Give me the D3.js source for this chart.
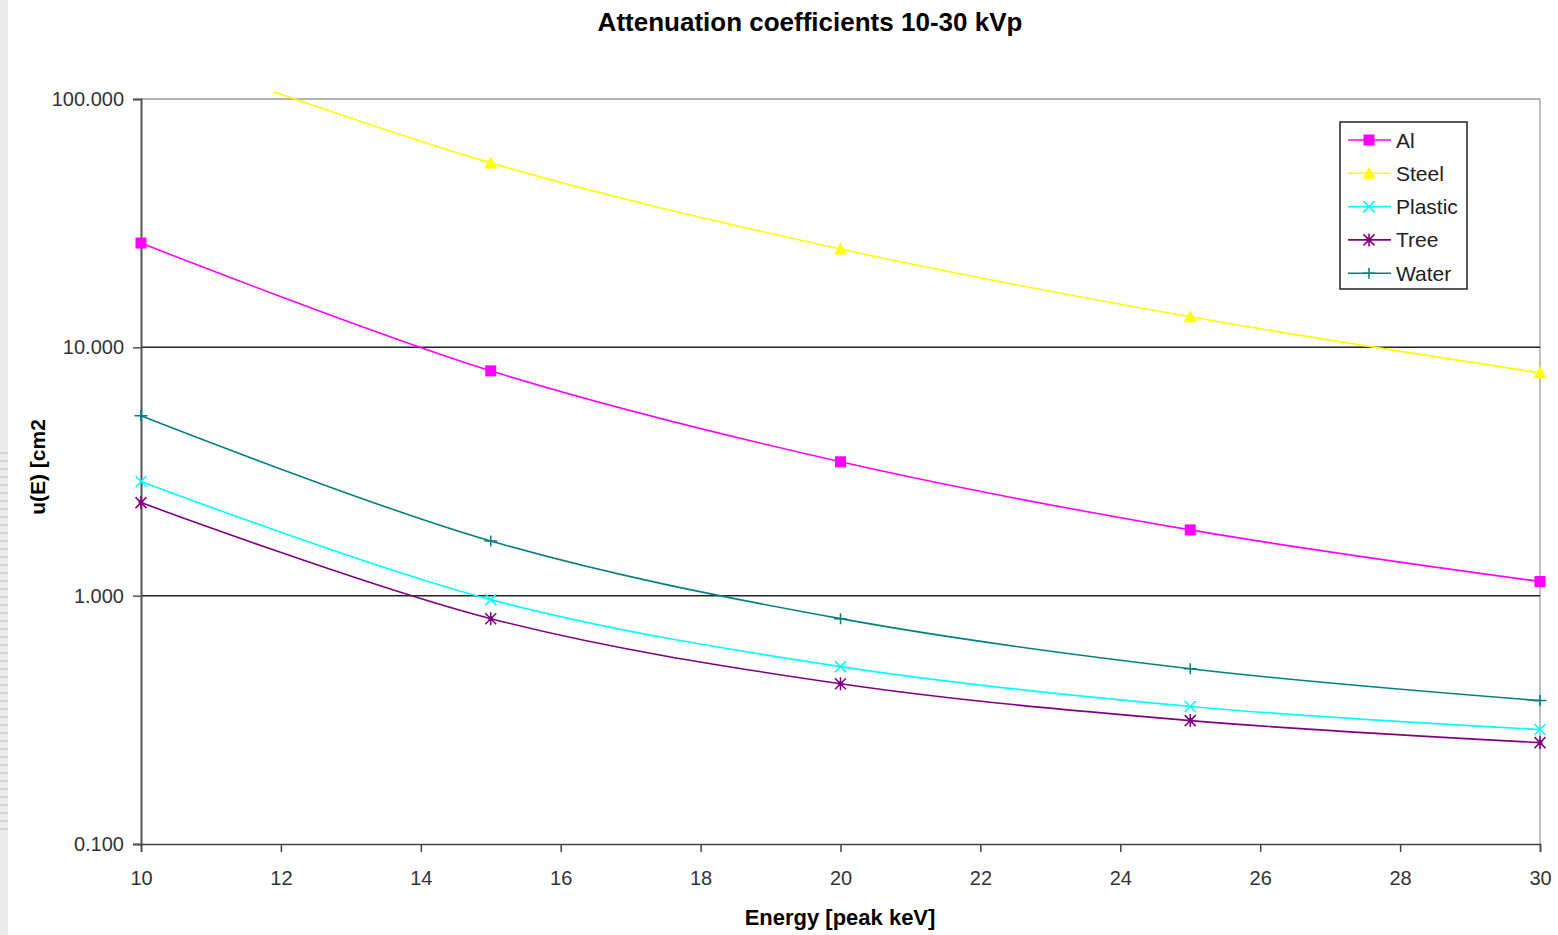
<!DOCTYPE html>
<html><head><meta charset="utf-8">
<script src="https://cdn.jsdelivr.net/npm/d3@7"></script>
<style>body{margin:0;background:#fff;}svg{display:block;font-family:"Liberation Sans",Arial,sans-serif;}</style>
</head><body>
<svg id="c" width="1558" height="935"></svg>
<script>
const energies = [10, 15, 20, 25, 30];
const alValues = [26.3, 8.04, 3.46, 1.84, 1.14];
const steelValues = [165, 55.3, 24.9, 13.27, 7.9];
const plasticValues = [2.88, 0.964, 0.518, 0.358, 0.289];
const treeValues = [2.37, 0.808, 0.442, 0.314, 0.256];
const waterValues = [5.30, 1.66, 0.808, 0.508, 0.378];
const seriesNames = ["Al", "Steel", "Plastic", "Tree", "Water"];
const seriesColors = ["#ff00ff", "#ffff00", "#00ffff", "#800080", "#008080"];
const seriesMarkers = ["square", "triangle", "x", "star", "plus"];
const xTicks = [10, 12, 14, 16, 18, 20, 22, 24, 26, 28, 30];
const yTicks = [0.1, 1, 10, 100];
const yTickLabels = ["0.100", "1.000", "10.000", "100.000"];

const seriesValues = [alValues, steelValues, plasticValues, treeValues, waterValues];
const svg = d3.select("#c");
const L = 141, R = 1540, T = 99, B = 844;
const x = d3.scaleLinear().domain([10, 30]).range([L, R]);
const y = d3.scaleLog().domain([0.1, 100]).range([B, T]);

// left gray strip
svg.append("rect").attr("x", 0).attr("y", 0).attr("width", 8).attr("height", 935).attr("fill", "#ececec");
for (let yy = 452; yy < 832; yy += 8) {
  svg.append("rect").attr("x", 0).attr("y", yy).attr("width", 8).attr("height", 2).attr("fill", "#d4d4d4");
}

// title
svg.append("text").attr("x", 810).attr("y", 31).attr("text-anchor", "middle")
  .attr("font-size", 26).attr("font-weight", "bold").attr("fill", "#000")
  .text("Attenuation coefficients 10-30 kVp");

// plot border top and right
svg.append("line").attr("x1", L).attr("x2", R).attr("y1", T).attr("y2", T).attr("stroke", "#999").attr("stroke-width", 1.5);
svg.append("line").attr("x1", R).attr("x2", R).attr("y1", T).attr("y2", B).attr("stroke", "#aaa").attr("stroke-width", 1.5);

// gridlines
svg.append("g").selectAll("line").data([1, 10]).join("line")
  .attr("x1", L).attr("x2", R).attr("y1", d => y(d)).attr("y2", d => y(d))
  .attr("stroke", "#222").attr("stroke-width", 1.5);

// axes
const yAxis = d3.axisLeft(y).tickValues(yTicks).tickFormat((d, i) => yTickLabels[i]).tickSize(8).tickPadding(9);
const gy = svg.append("g").attr("transform", `translate(${L},0)`).call(yAxis);
gy.select(".domain").attr("stroke", "#555").attr("stroke-width", 2);
gy.selectAll(".tick line").attr("stroke", "#555").attr("stroke-width", 1.5);
gy.selectAll(".tick text").attr("font-size", 20).attr("fill", "#333").attr("font-family", "Liberation Sans, Arial, sans-serif");

const xAxis = d3.axisBottom(x).tickValues(xTicks).tickFormat(d3.format("d")).tickSize(8).tickPadding(19);
const gx = svg.append("g").attr("transform", `translate(0,${B})`).call(xAxis);
gx.select(".domain").attr("stroke", "#444").attr("stroke-width", 1.5);
gx.selectAll(".tick line").attr("stroke", "#444").attr("stroke-width", 1.5);
gx.selectAll(".tick text").attr("font-size", 20).attr("fill", "#333").attr("font-family", "Liberation Sans, Arial, sans-serif");

// axis titles
svg.append("text").attr("x", 840).attr("y", 925).attr("text-anchor", "middle")
  .attr("font-size", 22).attr("font-weight", "bold").text("Energy [peak keV]");
svg.append("text").attr("transform", "translate(45,467) rotate(-90)").attr("text-anchor", "middle")
  .attr("font-size", 21).attr("font-weight", "bold").text("u(E) [cm2");

// clip
svg.append("clipPath").attr("id", "clip").append("rect")
  .attr("x", L - 6).attr("y", T - 7).attr("width", R - L + 12).attr("height", B - T + 7);

const line = d3.line().x(d => x(d[0])).y(d => y(d[1])).curve(d3.curveCatmullRom.alpha(0.5));

function drawMarker(g, type, color, cx, cy, s) {
  if (type === "square") {
    g.append("rect").attr("x", cx - s).attr("y", cy - s).attr("width", 2 * s).attr("height", 2 * s).attr("fill", color);
  } else if (type === "triangle") {
    g.append("path").attr("d", `M${cx},${cy - s - 1}L${cx + s + 1},${cy + s}L${cx - s - 1},${cy + s}Z`).attr("fill", color);
  } else if (type === "x") {
    g.append("path").attr("d", `M${cx - s},${cy - s}L${cx + s},${cy + s}M${cx - s},${cy + s}L${cx + s},${cy - s}`).attr("stroke", color).attr("stroke-width", 1.5);
  } else if (type === "star") {
    g.append("path").attr("d", `M${cx - s},${cy - s}L${cx + s},${cy + s}M${cx - s},${cy + s}L${cx + s},${cy - s}M${cx},${cy - s - 1}L${cx},${cy + s + 1}`).attr("stroke", color).attr("stroke-width", 1.5);
    g.append("circle").attr("cx", cx).attr("cy", cy).attr("r", 2.5).attr("fill", color);
  } else if (type === "plus") {
    g.append("path").attr("d", `M${cx - s - 1},${cy}L${cx + s + 1},${cy}M${cx},${cy - s}L${cx},${cy + s}`).attr("stroke", color).attr("stroke-width", 1.5);
  }
}

const plot = svg.append("g").attr("clip-path", "url(#clip)");
seriesNames.forEach((name, i) => {
  const pts = energies.map((e, j) => [e, seriesValues[i][j]]);
  plot.append("path").datum(pts).attr("d", line).attr("fill", "none")
    .attr("stroke", seriesColors[i]).attr("stroke-width", 1.6);
});
seriesNames.forEach((name, i) => {
  const g = svg.append("g");
  energies.forEach((e, j) => {
    const v = seriesValues[i][j];
    if (v > 100) return;
    drawMarker(g, seriesMarkers[i], seriesColors[i], x(e), y(v), 5.5);
  });
});

// legend
const lg = svg.append("g");
lg.append("rect").attr("x", 1340).attr("y", 122).attr("width", 127).attr("height", 167)
  .attr("fill", "#fff").attr("stroke", "#222").attr("stroke-width", 1.5);
seriesNames.forEach((name, i) => {
  const cy = 140 + i * 33.3;
  lg.append("line").attr("x1", 1348).attr("x2", 1391).attr("y1", cy).attr("y2", cy)
    .attr("stroke", seriesColors[i]).attr("stroke-width", 1.6);
  drawMarker(lg, seriesMarkers[i], seriesColors[i], 1369, cy, 5.5);
  lg.append("text").attr("x", 1396).attr("y", cy + 7.5).attr("font-size", 21).attr("fill", "#222").text(name);
});
</script>
</body></html>
